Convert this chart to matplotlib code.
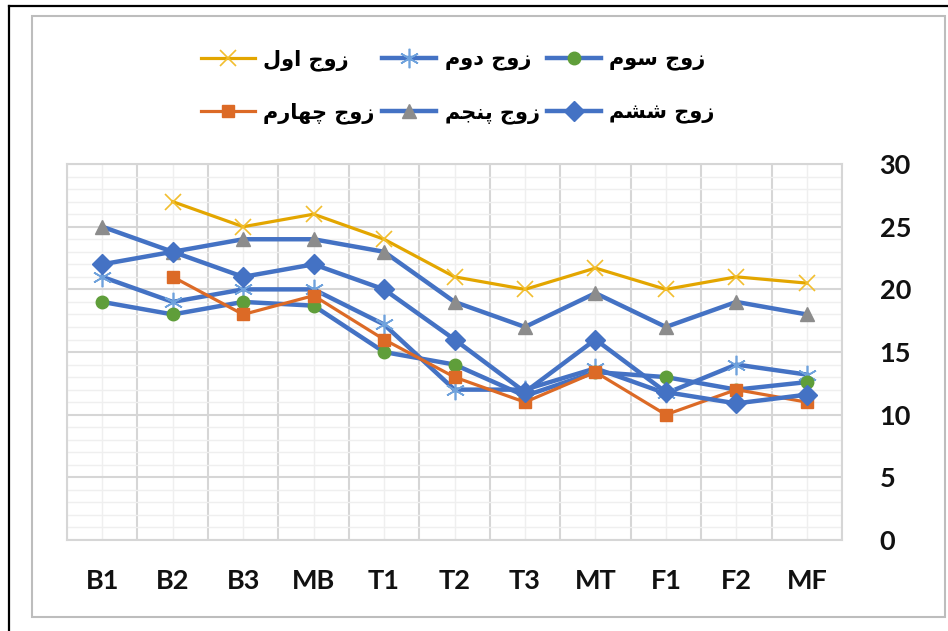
import numpy as np
import matplotlib
matplotlib.use("Agg")
import matplotlib.pyplot as plt
from matplotlib.patches import Rectangle
from matplotlib.lines import Line2D

# -----------------------------
# data
# -----------------------------
categories = ["B1", "B2", "B3", "MB", "T1", "T2", "T3", "MT", "F1", "F2", "MF"]
nan = np.nan
pair1 = [nan, 27, 25, 26, 24, 21, 20, 21.7, 20, 21, 20.5]
pair2 = [21, 19, 20, 20, 17.2, 12, 12, 13.7, 11.7, 14, 13.2]
pair3 = [19, 18, 19, 18.7, 15, 14, 11.5, 13.4, 13, 12, 12.6]
pair4 = [nan, 21, 18, 19.5, 16, 13, 11, 13.4, 10, 12, 11]
pair5 = [25, 23, 24, 24, 23, 19, 17, 19.7, 17, 19, 18]
pair6 = [22, 23, 21, 22, 20, 16, 11.8, 16, 11.8, 10.9, 11.6]
names = ["زوج اول", "زوج دوم", "زوج سوم", "زوج چهارم", "زوج پنجم", "زوج ششم"]
y_ticks = [0, 5, 10, 15, 20, 25, 30]

# -----------------------------
# simple arabic-script shaping (matplotlib has no bidi / joining)
# iso, final, initial, medial
# -----------------------------
FORMS = {
    "ا": ("\uFE8D", "\uFE8E", None, None),
    "ج": ("\uFE9D", "\uFE9E", "\uFE9F", "\uFEA0"),
    "چ": ("\uFB7A", "\uFB7B", "\uFB7C", "\uFB7D"),
    "د": ("\uFEA9", "\uFEAA", None, None),
    "ر": ("\uFEAD", "\uFEAE", None, None),
    "ز": ("\uFEAF", "\uFEB0", None, None),
    "س": ("\uFEB1", "\uFEB2", "\uFEB3", "\uFEB4"),
    "ش": ("\uFEB5", "\uFEB6", "\uFEB7", "\uFEB8"),
    "ل": ("\uFEDD", "\uFEDE", "\uFEDF", "\uFEE0"),
    "م": ("\uFEE1", "\uFEE2", "\uFEE3", "\uFEE4"),
    "ن": ("\uFEE5", "\uFEE6", "\uFEE7", "\uFEE8"),
    "ه": ("\uFEE9", "\uFEEA", "\uFEEB", "\uFEEC"),
    "و": ("\uFEED", "\uFEEE", None, None),
    "پ": ("\uFB56", "\uFB57", "\uFB58", "\uFB59"),
}


def shape(text):
    out = []
    for i, ch in enumerate(text):
        f = FORMS.get(ch)
        if f is None:
            out.append(ch)
            continue
        prev = text[i - 1] if i > 0 else ""
        nxt = text[i + 1] if i + 1 < len(text) else ""
        jp = prev in FORMS and FORMS[prev][2] is not None
        jn = f[2] is not None and nxt in FORMS
        if jp and jn:
            out.append(f[3])
        elif jp:
            out.append(f[1])
        elif jn:
            out.append(f[2])
        else:
            out.append(f[0])
    return "".join(reversed(out))


# -----------------------------
# figure
# -----------------------------
fig = plt.figure(figsize=(9.48, 6.31), dpi=100)
ax = fig.add_axes([0.0707, 0.1442, 0.8175, 0.5958])

x = np.arange(len(categories))
blue = "#4472C4"

ax.plot(x, pair1, color="#E3A600", lw=2.3, marker="x", ms=11, mew=1.2,
        mec="#F2BE2E", label=shape(names[0]))
ax.plot(x, pair2, color=blue, lw=3.2, marker="*", ms=0.1, label=shape(names[1]))
ax.plot(x, pair2, ls="none", marker=(6, 2, 0), ms=14, mew=1.2, mec="#6FA2DC")
ax.plot(x, pair3, color=blue, lw=3.2, marker="o", ms=9, mfc="#5F9E3A",
        mec="#5F9E3A", label=shape(names[2]))
ax.plot(x, pair4, color="#DC6A26", lw=2.3, marker="s", ms=9, mfc="#DC6A26",
        mec="#DC6A26", label=shape(names[3]))
ax.plot(x, pair5, color=blue, lw=3.2, marker="^", ms=10, mfc="#8C8C8C",
        mec="#8C8C8C", label=shape(names[4]))
ax.plot(x, pair6, color=blue, lw=3.2, marker="D", ms=10, mfc=blue,
        mec=blue, label=shape(names[5]))

ax.set_xlim(-0.5, len(categories) - 0.5)
ax.set_ylim(0, 30)

# grid: major at category borders / every 5, minor at centers / every 1
ax.set_xticks(np.arange(-0.5, len(categories), 1))
ax.set_xticklabels([])
ax.set_xticks(x, labels=categories, minor=True)
ax.set_yticks(y_ticks)
ax.set_yticks(np.arange(0, 31, 1), minor=True)
ax.yaxis.tick_right()
ax.grid(which="major", color="#D6D6D6", lw=1.5)
ax.grid(which="minor", color="#EFEFEF", lw=1.0)
ax.set_axisbelow(True)
for s in ax.spines.values():
    s.set_color("#D6D6D6")
    s.set_linewidth(1.5)

ax.tick_params(which="both", length=0)
ax.tick_params(axis="x", which="minor", pad=21)
ax.tick_params(axis="y", which="major", pad=27)
for lab in ax.get_xticklabels(minor=True) + ax.get_yticklabels():
    lab.set_fontfamily("Lato")
    lab.set_fontweight("bold")
    lab.set_fontsize(19.5)
    lab.set_color("#111111")

# legend (filled column-wise, so reorder to read row-wise)
h, l = ax.get_legend_handles_labels()
order = [0, 3, 1, 4, 2, 5]
leg = fig.legend([h[i] for i in order], [l[i] for i in order], loc="center",
                 bbox_to_anchor=(0.483, 0.863), ncol=3, frameon=False,
                 handlelength=2.6, handletextpad=0.4, columnspacing=0.35,
                 labelspacing=1.5,
                 prop={"family": "DejaVu Sans", "size": 15, "weight": "bold"})
# star marker for second entry
leg.legend_handles[2].set_marker((6, 2, 0))
leg.legend_handles[2].set_markersize(14)
leg.legend_handles[2].set_markeredgecolor("#6FA2DC")
leg.legend_handles[2].set_markeredgewidth(1.2)

# frames around the chart
fig.add_artist(Rectangle((0.0338, 0.0222), 0.963, 0.9525, transform=fig.transFigure,
                         fill=False, ec="#BDBDBD", lw=1.5))
fig.add_artist(Line2D([0.009, 0.009], [0, 0.9897], transform=fig.transFigure,
                      color="black", lw=1.6))
fig.add_artist(Line2D([0.009, 1], [0.9897, 0.9897], transform=fig.transFigure,
                      color="black", lw=1.6))

fig.savefig("out.png", dpi=100)
